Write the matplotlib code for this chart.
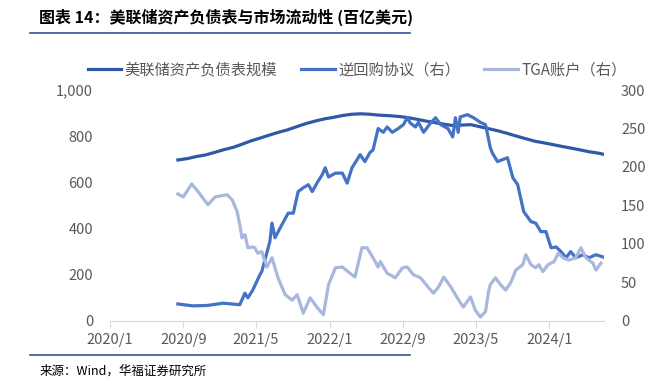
import pandas as pd
import matplotlib.pyplot as plt
import matplotlib.dates as mdates
from matplotlib.lines import Line2D
from matplotlib.ticker import FuncFormatter, MultipleLocator

plt.rcParams['font.family'] = ['Noto Sans CJK SC', 'DejaVu Sans']

## Fed balance sheet, left axis (hundred billion USD)
fed_dates = ['2020-08-14', '2020-09-15', '2020-10-15', '2020-11-15', '2020-12-15',
             '2021-01-15', '2021-02-15', '2021-03-15', '2021-04-15', '2021-05-15',
             '2021-06-15', '2021-07-15', '2021-08-15', '2021-09-15', '2021-10-15',
             '2021-11-15', '2021-12-15', '2022-01-15', '2022-02-15', '2022-03-15',
             '2022-04-15', '2022-05-15', '2022-06-15', '2022-07-15', '2022-08-15',
             '2022-09-15', '2022-10-15', '2022-11-15', '2022-12-15', '2023-01-15',
             '2023-02-15', '2023-03-15', '2023-04-15', '2023-05-15', '2023-06-15',
             '2023-07-15', '2023-08-15', '2023-09-15', '2023-10-15', '2023-11-15',
             '2023-12-15', '2024-01-15', '2024-02-15', '2024-03-15', '2024-04-15',
             '2024-05-15', '2024-06-15', '2024-06-28']
fed_vals = [697, 703, 712, 719, 730, 742, 752, 765, 780, 792, 805, 817, 828, 842, 855,
            866, 875, 882, 890, 895, 897, 895, 891, 889, 886, 881, 874, 866, 859, 852,
            846, 848, 850, 841, 832, 823, 812, 800, 789, 778, 771, 763, 755, 748, 740,
            732, 726, 722]

## Reverse repo, right axis
rrp_dates = ['2020-08-14', '2020-10-03', '2020-11-19', '2021-01-12', '2021-03-08',
             '2021-03-25', '2021-04-04', '2021-04-20', '2021-05-14', '2021-05-20',
             '2021-06-16', '2021-06-23', '2021-07-03', '2021-07-26', '2021-08-16',
             '2021-09-02', '2021-09-18', '2021-10-05', '2021-10-22', '2021-11-04',
             '2021-11-21', '2021-12-07', '2021-12-17', '2021-12-28', '2022-01-20',
             '2022-02-12', '2022-02-28', '2022-03-16', '2022-03-26', '2022-04-12',
             '2022-04-28', '2022-05-15', '2022-05-25', '2022-06-11', '2022-06-28',
             '2022-07-11', '2022-07-28', '2022-08-17', '2022-09-03', '2022-09-16',
             '2022-09-26', '2022-10-13', '2022-10-23', '2022-11-09', '2022-12-02',
             '2022-12-19', '2023-01-05', '2023-01-29', '2023-02-14', '2023-02-23',
             '2023-03-04', '2023-03-11', '2023-04-04', '2023-04-24', '2023-05-17',
             '2023-06-03', '2023-06-19', '2023-06-26', '2023-07-13', '2023-08-15',
             '2023-09-02', '2023-09-18', '2023-10-08', '2023-11-01', '2023-11-17',
             '2023-12-04', '2023-12-21', '2024-01-07', '2024-01-24', '2024-02-09',
             '2024-02-26', '2024-03-12', '2024-03-29', '2024-04-22', '2024-05-12',
             '2024-06-04', '2024-06-28']
rrp_vals = [22, 19.5, 20, 23, 21, 36, 30, 40, 60, 64, 103, 127, 108, 125, 140, 140, 168,
            173, 177, 168, 180, 190, 199, 187, 192, 192, 179, 199, 205, 216, 207, 219,
            222, 250, 245, 252, 245, 250, 255, 264, 257, 252, 258, 245, 257, 264, 255,
            250, 239, 264, 245, 265, 268, 264, 258, 255, 225, 218, 207, 212, 186, 177,
            142, 129, 127, 116, 116, 95, 96, 90, 82, 90, 82, 86, 82, 86, 83]

## TGA account, right axis
tga_dates = ['2020-08-14', '2020-09-01', '2020-09-29', '2020-10-20', '2020-11-22',
             '2020-12-16', '2021-01-25', '2021-02-11', '2021-02-27', '2021-03-08',
             '2021-03-15', '2021-03-25', '2021-04-04', '2021-04-20', '2021-04-27',
             '2021-05-07', '2021-05-20', '2021-06-06', '2021-06-23', '2021-07-13',
             '2021-08-06', '2021-08-29', '2021-09-15', '2021-10-05', '2021-10-28',
             '2021-11-21', '2021-12-11', '2021-12-28', '2022-01-20', '2022-02-12',
             '2022-03-09', '2022-03-26', '2022-04-18', '2022-05-05', '2022-05-25',
             '2022-06-11', '2022-06-18', '2022-07-11', '2022-08-07', '2022-08-31',
             '2022-09-16', '2022-10-06', '2022-10-30', '2022-11-26', '2022-12-12',
             '2022-12-29', '2023-01-15', '2023-02-08', '2023-03-01', '2023-03-21',
             '2023-04-14', '2023-04-30', '2023-05-17', '2023-06-03', '2023-06-13',
             '2023-06-19', '2023-07-06', '2023-07-23', '2023-08-09', '2023-08-25',
             '2023-09-12', '2023-10-05', '2023-10-15', '2023-11-01', '2023-11-17',
             '2023-11-27', '2023-12-11', '2023-12-28', '2024-01-17', '2024-01-31',
             '2024-02-16', '2024-03-06', '2024-03-29', '2024-04-15', '2024-05-02',
             '2024-05-25', '2024-06-04', '2024-06-21']
tga_vals = [165, 161, 178, 168, 151, 161, 164, 157, 142, 125, 108, 112, 95, 96, 95, 88,
            90, 70, 82, 56, 34, 27, 34, 10, 30, 17, 8, 47, 69, 70, 62, 57, 95, 95, 82,
            70, 77, 62, 56, 69, 70, 60, 56, 43, 36, 44, 57, 44, 30, 18, 31, 14, 5, 12,
            38, 47, 56, 47, 40, 49, 66, 73, 86, 73, 69, 73, 64, 73, 77, 88, 82, 79, 82,
            95, 82, 75, 66, 75]

labels = ['美联储资产负债表规模', '逆回购协议（右）', 'TGA账户（右）']
colors = ['#2F58A8', '#4472C4', '#A8B7DE']
xticks = ['2020-01', '2020-09', '2021-05', '2022-01', '2022-09', '2023-05', '2024-01']
grey = '#595959'

fig = plt.figure(figsize=(6.54, 3.88), dpi=100)
ax = fig.add_axes([0.168, 0.173, 0.756, 0.595])
ax2 = ax.twinx()

l1, = ax.plot(pd.to_datetime(fed_dates), fed_vals, color=colors[0], lw=2.3)
l2, = ax2.plot(pd.to_datetime(rrp_dates), rrp_vals, color=colors[1], lw=2.3)
l3, = ax2.plot(pd.to_datetime(tga_dates), tga_vals, color=colors[2], lw=2.3)

ax.set_xlim(pd.Timestamp('2020-01-01'), pd.Timestamp('2024-07-02'))
ax.set_ylim(0, 1000)
ax2.set_ylim(0, 300)
ax.yaxis.set_major_locator(MultipleLocator(200))
ax2.yaxis.set_major_locator(MultipleLocator(50))
ax.yaxis.set_major_formatter(FuncFormatter(lambda v, p: f'{int(v):,}'))

ax.set_xticks(pd.to_datetime(xticks))
ax.xaxis.set_major_formatter(FuncFormatter(
    lambda v, p: f'{mdates.num2date(v).year}/{mdates.num2date(v).month}'))

for a in (ax, ax2):
    for s in a.spines.values():
        s.set_visible(False)
    a.tick_params(axis='y', length=0, labelsize=10.5, labelcolor=grey, pad=12)
ax.spines['bottom'].set_visible(True)
ax.spines['bottom'].set_color('#D9D9D9')
ax.tick_params(axis='x', length=5, color='#D9D9D9', labelsize=10.5,
               labelcolor=grey, pad=4)

fig.legend([l1, l2, l3], labels, loc='center', bbox_to_anchor=(0.546, 0.82),
           ncol=3, frameon=False, fontsize=11, labelcolor=grey,
           handlelength=2.2, handletextpad=0.2, columnspacing=1.6)

fig.text(0.06, 0.955, '图表 14：美联储资产负债表与市场流动性 (百亿美元)',
         fontsize=11.5, fontweight='bold', va='center', ha='left')
fig.add_artist(Line2D([0.046, 0.627], [0.915, 0.915], color='#2F5597', lw=1.2,
                      transform=fig.transFigure))
fig.add_artist(Line2D([0.046, 0.627], [0.085, 0.085], color='#2F5597', lw=1.2,
                      transform=fig.transFigure))
fig.text(0.06, 0.043, '来源：Wind，华福证券研究所', fontsize=9, va='center', ha='left')

fig.savefig('out.png', dpi=100)
